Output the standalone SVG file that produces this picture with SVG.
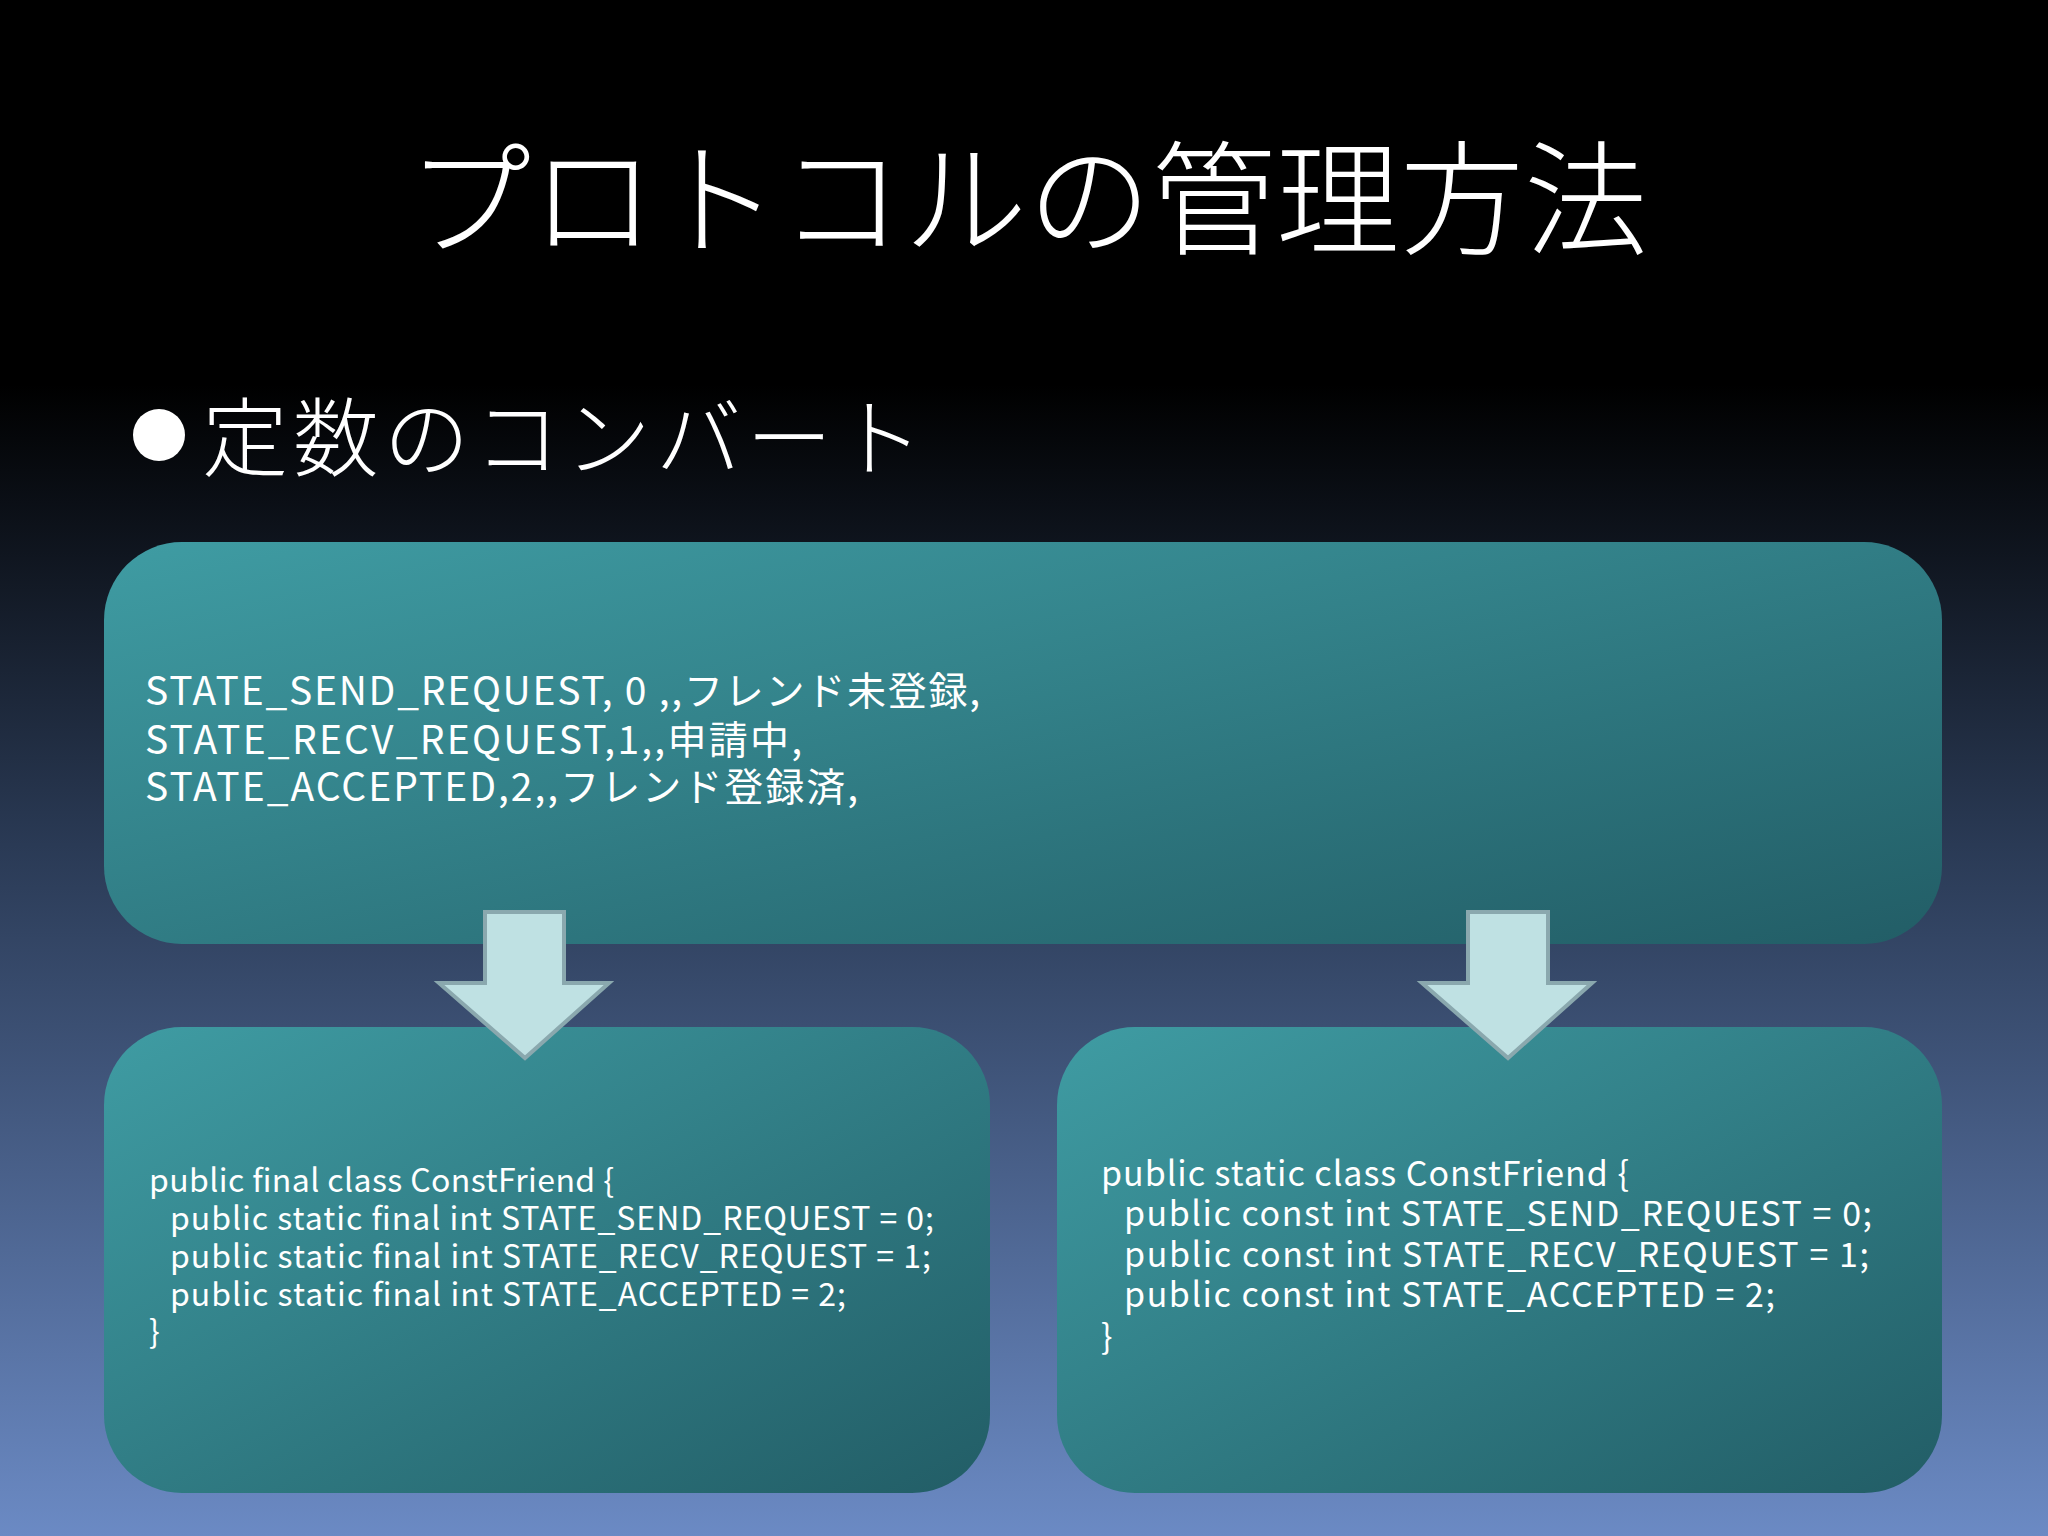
<svg xmlns="http://www.w3.org/2000/svg" width="2048" height="1536" viewBox="0 0 2048 1536">
<defs>
<linearGradient id="bg" x1="0" y1="0" x2="0" y2="1">
<stop offset="0" stop-color="#000"/><stop offset="0.25" stop-color="#000"/><stop offset="0.55" stop-color="#2a3a55"/><stop offset="1" stop-color="#6b8ac4"/>
</linearGradient>
<linearGradient id="box" x1="0" y1="0" x2="1" y2="1">
<stop offset="0" stop-color="#3f9ca3"/><stop offset="1" stop-color="#225d66"/>
</linearGradient>
<style>
text{fill:#fff;font-family:"Noto Sans CJK JP","Noto Sans",sans-serif}
.box{fill:url(#box)}
.arr{fill:#bfe1e3;stroke:#8aa8ae;stroke-width:4}
.t1{font-size:39px}.t2{font-size:32px}.t3{font-size:34px}
</style>
</defs>
<rect width="2048" height="1536" fill="url(#bg)"/>
<text x="407" y="245" font-size="124" font-weight="300" textLength="1241" lengthAdjust="spacing">プロトコルの管理方法</text>
<circle cx="159" cy="435" r="26" fill="#fff"/>
<text x="202" y="470" font-size="86" font-weight="300" textLength="721" lengthAdjust="spacing">定数のコンバート</text>
<g id="top"><rect class="box" x="104" y="542" width="1838" height="402" rx="78"/>
<text class="t1" x="145" y="705" textLength="835" lengthAdjust="spacing">STATE_SEND_REQUEST, 0 ,,フレンド未登録,</text>
<text class="t1" x="145" y="754" textLength="657" lengthAdjust="spacing">STATE_RECV_REQUEST,1,,申請中,</text>
<text class="t1" x="145" y="801" textLength="713" lengthAdjust="spacing">STATE_ACCEPTED,2,,フレンド登録済,</text></g>
<g id="left"><rect class="box" x="104" y="1027" width="886" height="466" rx="78"/>
<text class="t2" x="149" y="1192" textLength="465" lengthAdjust="spacing">public final class ConstFriend {</text>
<text class="t2" x="170" y="1230" textLength="764" lengthAdjust="spacing">public static final int STATE_SEND_REQUEST = 0;</text>
<text class="t2" x="170" y="1268" textLength="761" lengthAdjust="spacing">public static final int STATE_RECV_REQUEST = 1;</text>
<text class="t2" x="170" y="1306" textLength="676" lengthAdjust="spacing">public static final int STATE_ACCEPTED = 2;</text>
<text class="t2" x="149" y="1343">}</text></g>
<g id="right"><rect class="box" x="1057" y="1027" width="885" height="466" rx="78"/>
<text class="t3" x="1101" y="1186" textLength="528" lengthAdjust="spacing">public static class ConstFriend {</text>
<text class="t3" x="1124" y="1226" textLength="748" lengthAdjust="spacing">public const int STATE_SEND_REQUEST = 0;</text>
<text class="t3" x="1124" y="1267" textLength="745" lengthAdjust="spacing">public const int STATE_RECV_REQUEST = 1;</text>
<text class="t3" x="1124" y="1307" textLength="651" lengthAdjust="spacing">public const int STATE_ACCEPTED = 2;</text>
<text class="t3" x="1101" y="1349">}</text></g>
<g id="connectors">
<polygon class="arr" points="485,912 564,912 564,983 609,983 525,1058 439,983 485,983"/>
<polygon class="arr" points="1468,912 1548,912 1548,983 1592,983 1508,1058 1422,983 1468,983"/>
</g>
</svg>
